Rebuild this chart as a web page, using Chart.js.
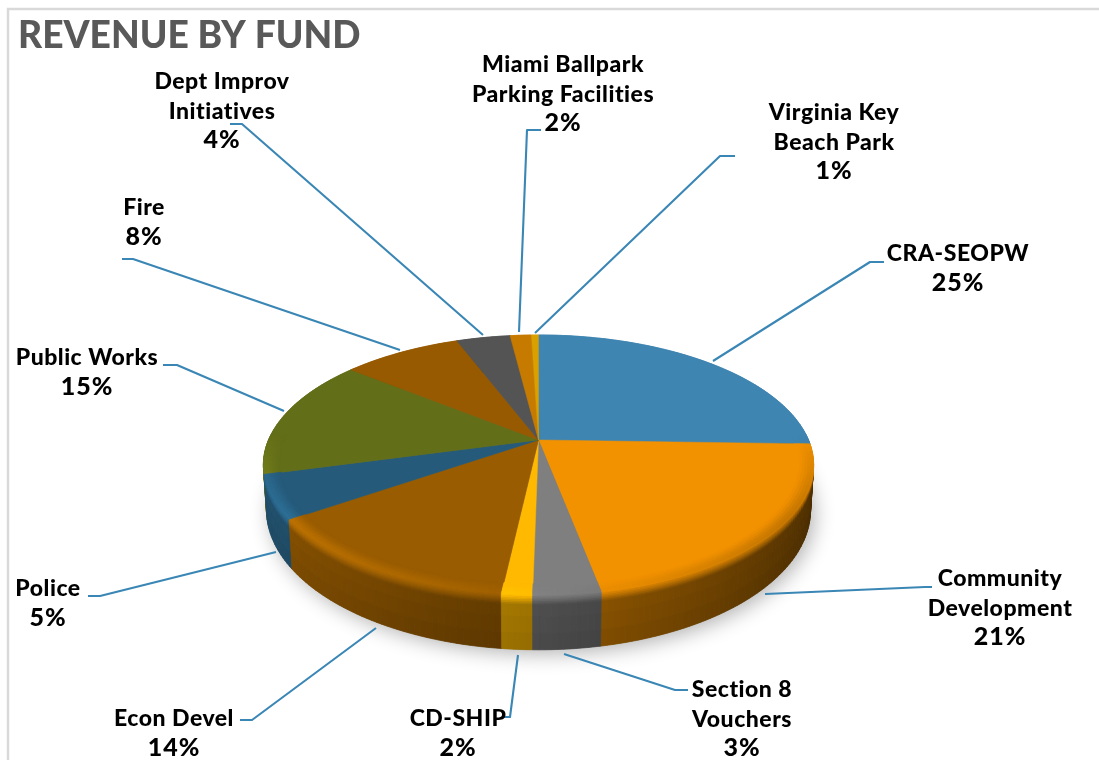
<!DOCTYPE html>
<html><head><meta charset="utf-8">
<style>html,body{margin:0;padding:0;background:#fff;overflow:hidden}#w{width:1099px;height:760px}</style>
<script src="https://cdn.jsdelivr.net/npm/chart.js@4/dist/chart.umd.min.js"></script>
</head><body><div id="w"><canvas id="c" width="1099" height="760"></canvas></div>
<script>
const categories = ["CRA-SEOPW","Community Development","Section 8 Vouchers","CD-SHIP","Econ Devel","Police","Public Works","Fire","Dept Improv Initiatives","Miami Ballpark Parking Facilities","Virginia Key Beach Park"];
const values = [25.49,21.49,3.3,1.5,13.6,5.42,15,8.4,3.8,1.5,0.5];
const colors = ["#3F85B2","#F39200","#7F7F7F","#FFB900","#995C00","#255A7A","#636E18","#975A00","#545454","#C77A00","#D9A000"];
const labelLines = [["CRA-SEOPW"],["Community","Development"],["Section 8","Vouchers"],["CD-SHIP"],["Econ Devel"],["Police"],["Public Works"],["Fire"],["Dept Improv","Initiatives"],["Miami Ballpark","Parking Facilities"],["Virginia Key","Beach Park"]];
const labelPos = [[958,261],[1000,586],[742,697],[458,726],[174,726],[48,596],[87,365],[144,215],[222,89],[563,72],[834,120]];
const leaders = [
 [[713,361],[870,262],[884,262]],[[765,594],[925,587],[932,587]],[[564,654],[675,690],[688,690]],
 [[518,655],[510,717],[503,717]],[[376,628],[252,720],[240,720]],[[276,552],[100,596],[88,596]],
 [[284,411],[177,365],[163,365]],[[400,350],[133,259],[122,259]],[[483,335],[242,124],[230,124]],
 [[519,332],[527,130],[541,130]],[[535,333],[720,156],[735,156]]];
const G={cx:538.5,k:0.192,A0:270,A1:267,B0:125.2,B1:134.8,y0:440,y1:483};
function P(r,t,h){
  const u=r*Math.cos(t),v=r*Math.sin(t),w=1-G.k*v;
  const A=G.A0+(G.A1-G.A0)*h,B=G.B0+(G.B1-G.B0)*h,y=G.y0+(G.y1-G.y0)*h;
  return [G.cx+A*u/w,y+B*v/w];
}
function rgb(hex,f){const n=parseInt(hex.slice(1),16);
  return `rgb(${[n>>16,(n>>8)&255,n&255].map(c=>Math.min(255,Math.round(c*f))).join(',')})`;}
function quad(ctx,a,b,c,d,col){ctx.fillStyle=col;ctx.strokeStyle=col;ctx.lineWidth=.7;ctx.beginPath();
  ctx.moveTo(...a);ctx.lineTo(...b);ctx.lineTo(...c);ctx.lineTo(...d);ctx.closePath();ctx.fill();ctx.stroke();}
const sideF=u=>.62-.3*u;
const hiF=(u,v)=>{const w=Math.max(0,Math.min(1,(v+.05)*1.6));return 1+w*(.02-.26*u);};
const pie3d={id:'pie3d',beforeDatasetsDraw(chart){
  const ctx=chart.ctx,arcs=chart.getDatasetMeta(0).data;
  ctx.save();
  ctx.strokeStyle='#D9D9D9';ctx.lineWidth=2.5;ctx.beginPath();ctx.moveTo(8,760);ctx.lineTo(8,9);ctx.lineTo(1099,9);ctx.stroke();
  ctx.save();ctx.shadowColor='rgba(0,0,0,.3)';ctx.shadowBlur=20;ctx.shadowOffsetY=4;ctx.shadowOffsetX=4;ctx.fillStyle='#777';ctx.beginPath();
  for(let i=0;i<=180;i++){ctx.lineTo(...P(1,i*Math.PI/90,1));}ctx.closePath();ctx.fill();ctx.restore();
  const strips=[];
  arcs.forEach((a,i)=>{const n=Math.max(2,Math.ceil((a.endAngle-a.startAngle)/0.02));
    for(let j=0;j<n;j++){const t0=a.startAngle+(a.endAngle-a.startAngle)*j/n,t1=a.startAngle+(a.endAngle-a.startAngle)*(j+1)/n;strips.push({i,t0,t1,m:(t0+t1)/2});}});
  strips.sort((p,q)=>Math.sin(p.m)-Math.sin(q.m));
  const hs=[0,.03,.06,.09,.12,.15,.18,.4,.7,1];
  strips.forEach(s=>{const u=Math.cos(s.m),v=Math.sin(s.m),sf=sideF(u),hl=hiF(u,v);
    for(let b=0;b<hs.length-1;b++){const h=(hs[b]+hs[b+1])/2;
      const f=h<.18?hl+(sf-hl)*Math.pow(h/.18,1.2):sf*(1-.08*(h-.18)/.82);
      quad(ctx,P(1,s.t0,hs[b]),P(1,s.t1,hs[b]),P(1,s.t1,hs[b+1]),P(1,s.t0,hs[b+1]),rgb(colors[s.i],f));}});
  arcs.forEach((a,i)=>{ctx.fillStyle=colors[i];ctx.strokeStyle=colors[i];ctx.lineWidth=.5;ctx.beginPath();ctx.moveTo(G.cx,G.y0);
    const n=Math.max(2,Math.ceil((a.endAngle-a.startAngle)/0.02));
    for(let j=0;j<=n;j++){ctx.lineTo(...P(1,a.startAngle+(a.endAngle-a.startAngle)*j/n,0));}
    ctx.closePath();ctx.fill();ctx.stroke();});
  const rs=[.94,.95,.96,.97,.98,.99,1];
  strips.filter(s=>Math.sin(s.m)>-.05).forEach(s=>{const u=Math.cos(s.m),v=Math.sin(s.m),hl=hiF(u,v);
    for(let b=0;b<6;b++){const x=(b+.5)/6,f=1+(hl-1)*x*x*(3-2*x);
      quad(ctx,P(rs[b],s.t0,0),P(rs[b],s.t1,0),P(rs[b+1],s.t1,0),P(rs[b+1],s.t0,0),rgb(colors[s.i],f));}});
  ctx.strokeStyle='#3A86B5';ctx.lineWidth=2.1;ctx.lineJoin='round';
  leaders.forEach(l=>{ctx.beginPath();l.forEach(p=>ctx.lineTo(...p));ctx.stroke();});
  ctx.fillStyle='#000';ctx.textAlign='center';ctx.textBaseline='alphabetic';
  labelLines.forEach((ls,i)=>{const [x,y]=labelPos[i];
    ctx.font='900 23px Lato';ctx.letterSpacing='0.5px';
    ls.forEach((t,j)=>ctx.fillText(t,x,y+j*29.5));
    ctx.font='900 25px Lato';ctx.letterSpacing='1px';
    ctx.fillText(Math.round(values[i])+'%',x,y+ls.length*29.5);});
  ctx.restore();
  return false;
}};
new Chart(document.getElementById('c'),{type:'pie',
  data:{labels:categories,datasets:[{data:values,backgroundColor:colors,borderWidth:0}]},
  options:{responsive:false,animation:false,rotation:0,layout:{padding:{left:18}},
    plugins:{legend:{display:false},tooltip:{enabled:false},
      title:{display:true,text:'REVENUE BY FUND',align:'start',color:'#595959',font:{family:'Lato',size:37.2,weight:'900'},padding:{top:14,bottom:0}}}},
  plugins:[pie3d]});
</script></body></html>
